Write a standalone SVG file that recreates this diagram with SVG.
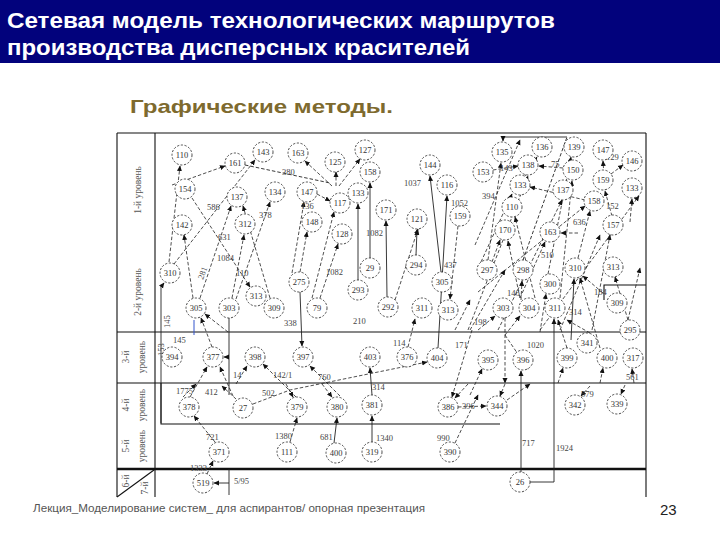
<svg xmlns="http://www.w3.org/2000/svg" width="720" height="540" viewBox="0 0 720 540">
<style>
.node circle{fill:#fff;stroke:#222;stroke-width:0.8;stroke-dasharray:2.2 1.6}
.node text{font-family:"Liberation Serif",serif;font-size:8.5px;fill:#333;text-anchor:middle}
.d{fill:none;stroke:#222;stroke-width:0.8;stroke-dasharray:3.5 2;marker-end:url(#ah)}
.s{fill:none;stroke:#222;stroke-width:0.9;marker-end:url(#ah)}
.p{fill:none;stroke:#222;stroke-width:0.9}
.lbl{font-family:"Liberation Serif",serif;font-size:8.5px;fill:#444}
.lev{font-family:"Liberation Serif",serif;font-size:9.5px;fill:#555;text-anchor:middle}
.frame{fill:none;stroke:#111;stroke-width:1.1}
</style>
<defs>
<marker id="ah" markerWidth="6" markerHeight="6" refX="5" refY="3" orient="auto" markerUnits="userSpaceOnUse">
<path d="M0,0.5 L5.5,3 L0,5.5 Z" fill="#111"/>
</marker>
</defs>
<rect width="720" height="540" fill="#fff"/>
<rect x="0" y="0" width="720" height="63" fill="#02027C"/>
<text x="7" y="28" font-family="Liberation Sans,Arial,sans-serif" font-size="22" font-weight="bold" fill="#fff" textLength="548" lengthAdjust="spacingAndGlyphs">Сетевая модель технологических маршрутов</text>
<text x="7" y="55" font-family="Liberation Sans,Arial,sans-serif" font-size="22" font-weight="bold" fill="#fff" textLength="463" lengthAdjust="spacingAndGlyphs">производства дисперсных красителей</text>
<text x="130" y="113" font-family="Liberation Sans,Arial,sans-serif" font-size="19" font-weight="bold" fill="#7E6A2E" textLength="263" lengthAdjust="spacingAndGlyphs">Графические методы.</text>

<g id="frame">
<path class="frame" d="M117,133 H646 M117,133 V497 M155,133 V497 M646,133 V497 M117,332 H646 M117,383 H646"/>
<path d="M117,469 H646" stroke="#111" stroke-width="2.6"/>
<path class="frame" d="M161,383 V424 H500"/>
<path class="frame" d="M117,497 L154,470"/>
<path class="frame" d="M604,300 V285 H646"/>
<path d="M194,320 V335" stroke="#3355cc" stroke-width="1"/>
</g>

<g id="levels">
<text class="lev" transform="translate(141,190) rotate(-90)">1-й уровень</text>
<text class="lev" transform="translate(141,292) rotate(-90)">2-й уровень</text>
<text class="lev" transform="translate(129,357) rotate(-90)">3-й</text>
<text class="lev" transform="translate(145,357) rotate(-90)">уровень</text>
<text class="lev" transform="translate(129,405) rotate(-90)">4-й</text>
<text class="lev" transform="translate(145,405) rotate(-90)">уровень</text>
<text class="lev" transform="translate(129,446) rotate(-90)">5-й</text>
<text class="lev" transform="translate(145,446) rotate(-90)">уровень</text>
<text class="lev" transform="translate(129,481) rotate(-90)">6-й</text>
<text class="lev" transform="translate(148,488) rotate(-90)">7-й</text>
</g>

<g id="connectors">
<line class="d" x1="169" y1="262" x2="180" y2="166"/>
<line class="d" x1="172" y1="185" x2="225" y2="166"/>
<line class="d" x1="174" y1="264" x2="255" y2="160"/>
<line class="d" x1="192" y1="198" x2="250" y2="287"/>
<line class="d" x1="200" y1="298" x2="231" y2="206"/>
<line class="d" x1="232" y1="298" x2="244" y2="235"/>
<line class="d" x1="236" y1="299" x2="270" y2="202"/>
<line class="d" x1="270" y1="298" x2="243" y2="206"/>
<line class="d" x1="193" y1="298" x2="184" y2="235"/>
<line class="p" stroke-dasharray="3.5 2" x1="245" y1="165" x2="330" y2="183"/>
<line class="d" x1="332" y1="186" x2="305" y2="161"/>
<line class="d" x1="336" y1="186" x2="336" y2="172"/>
<line class="d" x1="339" y1="186" x2="360" y2="159"/>
<line class="d" x1="317" y1="194" x2="330" y2="201"/>
<line class="d" x1="300" y1="272" x2="307" y2="232"/>
<line class="d" x1="292" y1="273" x2="304" y2="202"/>
<line class="d" x1="320" y1="298" x2="338" y2="244"/>
<line class="d" x1="312" y1="298" x2="334" y2="212"/>
<line class="s" x1="358" y1="280" x2="358" y2="204"/>
<line class="s" x1="370" y1="258" x2="370" y2="183"/>
<line class="s" x1="387" y1="297" x2="386" y2="221"/>
<line class="s" x1="416" y1="255" x2="417" y2="230"/>
<line class="s" x1="441" y1="272" x2="430" y2="176"/>
<line class="s" x1="438" y1="348" x2="447" y2="196"/>
<line class="d" x1="458" y1="226" x2="450" y2="299"/>
<line class="d" x1="395" y1="300" x2="418" y2="229"/>
<line class="d" x1="470" y1="330" x2="505" y2="270"/>
<line class="d" x1="455" y1="330" x2="470" y2="300"/>

<path class="p" stroke-dasharray="3.5 2" d="M523,260 L567,137"/>
<path class="s" d="M567,137 H503 V141"/>
<line class="d" x1="488" y1="260" x2="501" y2="163"/>
<line class="d" x1="493" y1="170" x2="518" y2="166"/>
<line class="d" x1="563" y1="168" x2="539" y2="166"/>
<line class="d" x1="525" y1="176" x2="537" y2="157"/>
<line class="d" x1="548" y1="274" x2="571" y2="157"/>
<line class="d" x1="605" y1="190" x2="603" y2="161"/>
<line class="d" x1="611" y1="174" x2="623" y2="165"/>
<line class="d" x1="612" y1="216" x2="605" y2="191"/>
<line class="d" x1="630" y1="222" x2="632" y2="199"/>
<line class="d" x1="478" y1="292" x2="585" y2="206"/>
<line class="d" x1="578" y1="258" x2="590" y2="211"/>
<line class="d" x1="560" y1="298" x2="572" y2="181"/>
<line class="d" x1="481" y1="262" x2="512" y2="194"/>
<line class="d" x1="585" y1="200" x2="530" y2="187"/>
<line class="d" x1="535" y1="298" x2="515" y2="217"/>
<line class="d" x1="578" y1="233" x2="561" y2="233"/>
<line class="d" x1="492" y1="262" x2="500" y2="240"/>
<line class="d" x1="520" y1="298" x2="508" y2="241"/>
<line class="d" x1="468" y1="330" x2="528" y2="176"/>
<line class="d" x1="498" y1="330" x2="562" y2="200"/>
<line class="d" x1="540" y1="330" x2="639" y2="196"/>
<line class="d" x1="592" y1="330" x2="610" y2="235"/>
<line class="d" x1="628" y1="320" x2="640" y2="268"/>
<line class="d" x1="560" y1="330" x2="600" y2="235"/>
<line class="d" x1="475" y1="245" x2="520" y2="140"/>
<line class="d" x1="520" y1="298" x2="545" y2="242"/>

<line class="d" x1="521" y1="300" x2="522" y2="281"/>
<line class="d" x1="478" y1="330" x2="495" y2="316"/>
<line class="d" x1="505" y1="335" x2="520" y2="316"/>
<line class="d" x1="540" y1="332" x2="546" y2="294"/>
<line class="d" x1="603" y1="293" x2="583" y2="276"/>
<line class="d" x1="600" y1="348" x2="580" y2="278"/>
<line class="s" x1="571" y1="340" x2="574" y2="279"/>
<line class="d" x1="628" y1="320" x2="615" y2="277"/>

<path class="s" d="M161,423 V287 L164,283"/>
<line class="d" x1="228" y1="332" x2="205" y2="314"/>
<line class="p" x1="229" y1="318" x2="229" y2="395"/>
<line class="s" x1="229" y1="357" x2="224" y2="357"/>
<line class="d" x1="212" y1="347" x2="201" y2="318"/>
<line class="d" x1="190" y1="397" x2="207" y2="367"/>
<line class="d" x1="233" y1="396" x2="220" y2="367"/>
<line class="d" x1="236" y1="384" x2="247" y2="366"/>
<line class="d" x1="296" y1="397" x2="263" y2="364"/>
<line class="d" x1="340" y1="396" x2="310" y2="366"/>
<line class="s" x1="300" y1="292" x2="302" y2="346"/>
<line class="s" x1="372" y1="395" x2="370" y2="368"/>
<path class="d" d="M253,404 L290,390 L427,362"/>
<line class="d" x1="408" y1="347" x2="415" y2="319"/>
<line class="d" x1="472" y1="330" x2="452" y2="397"/>
<line class="d" x1="470" y1="395" x2="482" y2="369"/>
<line class="s" x1="521" y1="472" x2="521" y2="371"/>
<path class="s" d="M530,482 H554 V319"/>
<line class="d" x1="558" y1="383" x2="563" y2="368"/>
<line class="d" x1="567" y1="348" x2="558" y2="320"/>
<line class="d" x1="590" y1="333" x2="567" y2="320"/>
<line class="d" x1="600" y1="383" x2="603" y2="368"/>
<line class="d" x1="634" y1="383" x2="632" y2="369"/>
<line class="d" x1="505" y1="335" x2="528" y2="369"/>
<line class="d" x1="505" y1="318" x2="505" y2="383"/>

<line class="d" x1="215" y1="442" x2="194" y2="416"/>
<line class="d" x1="207" y1="474" x2="213" y2="461"/>
<line class="s" x1="229" y1="483" x2="214" y2="483"/>
<line class="p" x1="229" y1="469" x2="229" y2="495"/>
<line class="d" x1="290" y1="442" x2="297" y2="418"/>
<line class="s" x1="334" y1="443" x2="337" y2="418"/>
<line class="s" x1="372" y1="442" x2="372" y2="416"/>
<line class="d" x1="455" y1="443" x2="478" y2="395"/>
<line class="d" x1="505" y1="384" x2="500" y2="396"/>
<line class="d" x1="507" y1="400" x2="530" y2="384"/>
<line class="d" x1="590" y1="386" x2="581" y2="396"/>
<line class="d" x1="625" y1="385" x2="621" y2="394"/>
<line class="d" x1="236" y1="399" x2="222" y2="386"/>
<line class="d" x1="286" y1="384" x2="293" y2="397"/>
<line class="d" x1="322" y1="384" x2="332" y2="397"/>
<line class="d" x1="468" y1="384" x2="455" y2="398"/>
<line class="d" x1="458" y1="407" x2="486" y2="406"/>
<line class="d" x1="183" y1="397" x2="196" y2="384"/>
</g>

<g id="edge-labels">
<text class="lbl" x="282" y="175">380</text>
<text class="lbl" x="207" y="210">586</text>
<text class="lbl" x="259" y="218">378</text>
<text class="lbl" x="218" y="240">631</text>
<text class="lbl" x="217" y="261">1084</text>
<text class="lbl" x="301" y="209">136</text>
<text class="lbl" x="366" y="236">1082</text>
<text class="lbl" x="404" y="186">1037</text>
<text class="lbl" x="451" y="206">1052</text>
<text class="lbl" x="500" y="171">143</text>
<text class="lbl" x="551" y="167">75</text>
<text class="lbl" x="482" y="199">394</text>
<text class="lbl" x="606" y="160">129</text>
<text class="lbl" x="606" y="209">152</text>
<text class="lbl" x="573" y="225">636</text>
<text class="lbl" x="541" y="258">510</text>
<text class="lbl" transform="translate(203,280) rotate(-70)">281</text>
<text class="lbl" x="236" y="276">110</text>
<text class="lbl" x="326" y="275">1082</text>
<text class="lbl" x="444" y="268">437</text>
<text class="lbl" x="507" y="296">146</text>
<text class="lbl" x="474" y="325">198</text>
<text class="lbl" x="594" y="295">184</text>
<text class="lbl" x="569" y="315">314</text>
<text class="lbl" transform="translate(170,328) rotate(-90)">145</text>
<text class="lbl" x="284" y="326">338</text>
<text class="lbl" x="353" y="324">210</text>
<text class="lbl" x="173" y="343">145</text>
<text class="lbl" transform="translate(164,356) rotate(-90)">153</text>
<text class="lbl" x="393" y="346">114</text>
<text class="lbl" x="455" y="348">171</text>
<text class="lbl" x="527" y="348">1020</text>
<text class="lbl" x="233" y="378">14</text>
<text class="lbl" x="273" y="378">142/1</text>
<text class="lbl" x="318" y="380">760</text>
<text class="lbl" x="626" y="380">561</text>
<text class="lbl" x="176" y="394">1775</text>
<text class="lbl" x="205" y="395" fill="#8a7a30">412</text>
<text class="lbl" x="262" y="396">502</text>
<text class="lbl" x="372" y="390">314</text>
<text class="lbl" x="462" y="409">396</text>
<text class="lbl" x="581" y="397">579</text>
<text class="lbl" x="206" y="440">721</text>
<text class="lbl" x="275" y="439">1380</text>
<text class="lbl" x="320" y="440">681</text>
<text class="lbl" x="376" y="441">1340</text>
<text class="lbl" x="437" y="441">990</text>
<text class="lbl" x="522" y="446">717</text>
<text class="lbl" x="556" y="451">1924</text>
<text class="lbl" x="190" y="471" fill="#8a7a30">1333</text>
<text class="lbl" x="234" y="484">5/95</text>
</g>

<g id="nodes">
<g id="n-a1" class="node" transform="translate(182,155)"><circle r="10"/><text y="3">110</text></g>
<g id="n-a2" class="node" transform="translate(235,163)"><circle r="10"/><text y="3">161</text></g>
<g id="n-a3" class="node" transform="translate(263,152)"><circle r="10"/><text y="3">143</text></g>
<g id="n-a4" class="node" transform="translate(185,189)"><circle r="10"/><text y="3">154</text></g>
<g id="n-a5" class="node" transform="translate(237,197)"><circle r="10"/><text y="3">137</text></g>
<g id="n-a6" class="node" transform="translate(275,192)"><circle r="10"/><text y="3">134</text></g>
<g id="n-a7" class="node" transform="translate(182,225)"><circle r="10"/><text y="3">142</text></g>
<g id="n-a8" class="node" transform="translate(245,224)"><circle r="10"/><text y="3">312</text></g>
<g id="n-a9" class="node" transform="translate(298,153)"><circle r="10"/><text y="3">163</text></g>
<g id="n-a10" class="node" transform="translate(335,162)"><circle r="10"/><text y="3">125</text></g>
<g id="n-a11" class="node" transform="translate(365,150)"><circle r="10"/><text y="3">127</text></g>
<g id="n-a12" class="node" transform="translate(307,192)"><circle r="10"/><text y="3">147</text></g>
<g id="n-a13" class="node" transform="translate(340,203)"><circle r="10"/><text y="3">117</text></g>
<g id="n-a14" class="node" transform="translate(358,193)"><circle r="10"/><text y="3">133</text></g>
<g id="n-a15" class="node" transform="translate(370,172)"><circle r="10"/><text y="3">158</text></g>
<g id="n-a16" class="node" transform="translate(386,210)"><circle r="10"/><text y="3">171</text></g>
<g id="n-a17" class="node" transform="translate(312,222)"><circle r="10"/><text y="3">148</text></g>
<g id="n-a18" class="node" transform="translate(342,234)"><circle r="10"/><text y="3">128</text></g>
<g id="n-a19" class="node" transform="translate(430,165)"><circle r="10"/><text y="3">144</text></g>
<g id="n-a20" class="node" transform="translate(447,185)"><circle r="10"/><text y="3">116</text></g>
<g id="n-a21" class="node" transform="translate(417,219)"><circle r="10"/><text y="3">121</text></g>
<g id="n-a22" class="node" transform="translate(460,216)"><circle r="10"/><text y="3">159</text></g>
<g id="n-a23" class="node" transform="translate(502,152)"><circle r="10"/><text y="3">135</text></g>
<g id="n-a24" class="node" transform="translate(542,147)"><circle r="10"/><text y="3">136</text></g>
<g id="n-a25" class="node" transform="translate(574,147)"><circle r="10"/><text y="3">139</text></g>
<g id="n-a26" class="node" transform="translate(603,150)"><circle r="10"/><text y="3">147</text></g>
<g id="n-a27" class="node" transform="translate(632,161)"><circle r="10"/><text y="3">146</text></g>
<g id="n-a28" class="node" transform="translate(483,172)"><circle r="10"/><text y="3">153</text></g>
<g id="n-a29" class="node" transform="translate(528,165)"><circle r="10"/><text y="3">138</text></g>
<g id="n-a30" class="node" transform="translate(573,170)"><circle r="10"/><text y="3">150</text></g>
<g id="n-a31" class="node" transform="translate(520,185)"><circle r="10"/><text y="3">133</text></g>
<g id="n-a32" class="node" transform="translate(563,190)"><circle r="10"/><text y="3">137</text></g>
<g id="n-a33" class="node" transform="translate(603,180)"><circle r="10"/><text y="3">159</text></g>
<g id="n-a34" class="node" transform="translate(632,188)"><circle r="10"/><text y="3">133</text></g>
<g id="n-a35" class="node" transform="translate(594,201)"><circle r="10"/><text y="3">158</text></g>
<g id="n-a36" class="node" transform="translate(512,207)"><circle r="10"/><text y="3">110</text></g>
<g id="n-a37" class="node" transform="translate(613,225)"><circle r="10"/><text y="3">157</text></g>
<g id="n-a38" class="node" transform="translate(550,232)"><circle r="10"/><text y="3">163</text></g>
<g id="n-a39" class="node" transform="translate(505,230)"><circle r="10"/><text y="3">170</text></g>

<g id="n-b1" class="node" transform="translate(170,273)"><circle r="10"/><text y="3">310</text></g>
<g id="n-b2" class="node" transform="translate(196,308)"><circle r="10"/><text y="3">305</text></g>
<g id="n-b3" class="node" transform="translate(229,308)"><circle r="10"/><text y="3">303</text></g>
<g id="n-b4" class="node" transform="translate(256,296)"><circle r="10"/><text y="3">313</text></g>
<g id="n-b5" class="node" transform="translate(274,308)"><circle r="10"/><text y="3">309</text></g>
<g id="n-b6" class="node" transform="translate(299,282)"><circle r="10"/><text y="3">275</text></g>
<g id="n-b7" class="node" transform="translate(317,308)"><circle r="10"/><text y="3">79</text></g>
<g id="n-b8" class="node" transform="translate(370,268)"><circle r="10"/><text y="3">29</text></g>
<g id="n-b9" class="node" transform="translate(358,290)"><circle r="10"/><text y="3">293</text></g>
<g id="n-b10" class="node" transform="translate(416,265)"><circle r="10"/><text y="3">294</text></g>
<g id="n-b11" class="node" transform="translate(388,307)"><circle r="10"/><text y="3">292</text></g>
<g id="n-b12" class="node" transform="translate(442,282)"><circle r="10"/><text y="3">305</text></g>
<g id="n-b13" class="node" transform="translate(422,308)"><circle r="10"/><text y="3">311</text></g>
<g id="n-b14" class="node" transform="translate(448,310)"><circle r="10"/><text y="3">313</text></g>
<g id="n-b15" class="node" transform="translate(487,270)"><circle r="10"/><text y="3">297</text></g>
<g id="n-b16" class="node" transform="translate(523,270)"><circle r="10"/><text y="3">298</text></g>
<g id="n-b17" class="node" transform="translate(550,284)"><circle r="10"/><text y="3">300</text></g>
<g id="n-b18" class="node" transform="translate(575,268)"><circle r="10"/><text y="3">310</text></g>
<g id="n-b19" class="node" transform="translate(613,267)"><circle r="10"/><text y="3">313</text></g>
<g id="n-b20" class="node" transform="translate(617,303)"><circle r="10"/><text y="3">309</text></g>
<g id="n-b21" class="node" transform="translate(630,330)"><circle r="10"/><text y="3">295</text></g>
<g id="n-b22" class="node" transform="translate(503,308)"><circle r="10"/><text y="3">303</text></g>
<g id="n-b23" class="node" transform="translate(529,308)"><circle r="10"/><text y="3">304</text></g>
<g id="n-b24" class="node" transform="translate(555,308)"><circle r="10"/><text y="3">311</text></g>

<g id="n-c1" class="node" transform="translate(172,357)"><circle r="10"/><text y="3">394</text></g>
<g id="n-c2" class="node" transform="translate(213,357)"><circle r="10"/><text y="3">377</text></g>
<g id="n-c3" class="node" transform="translate(255,357)"><circle r="10"/><text y="3">398</text></g>
<g id="n-c4" class="node" transform="translate(303,357)"><circle r="10"/><text y="3">397</text></g>
<g id="n-c5" class="node" transform="translate(370,357)"><circle r="10"/><text y="3">403</text></g>
<g id="n-c6" class="node" transform="translate(407,357)"><circle r="10"/><text y="3">376</text></g>
<g id="n-c7" class="node" transform="translate(437,358)"><circle r="10"/><text y="3">404</text></g>
<g id="n-c8" class="node" transform="translate(488,360)"><circle r="10"/><text y="3">395</text></g>
<g id="n-c9" class="node" transform="translate(523,360)"><circle r="10"/><text y="3">396</text></g>
<g id="n-c10" class="node" transform="translate(567,358)"><circle r="10"/><text y="3">399</text></g>
<g id="n-c11" class="node" transform="translate(587,343)"><circle r="10"/><text y="3">341</text></g>
<g id="n-c12" class="node" transform="translate(607,358)"><circle r="10"/><text y="3">400</text></g>
<g id="n-c13" class="node" transform="translate(633,358)"><circle r="10"/><text y="3">317</text></g>

<g id="n-d1" class="node" transform="translate(189,407)"><circle r="10"/><text y="3">378</text></g>
<g id="n-d2" class="node" transform="translate(243,408)"><circle r="10"/><text y="3">27</text></g>
<g id="n-d3" class="node" transform="translate(297,407)"><circle r="10"/><text y="3">379</text></g>
<g id="n-d4" class="node" transform="translate(337,407)"><circle r="10"/><text y="3">380</text></g>
<g id="n-d5" class="node" transform="translate(372,405)"><circle r="10"/><text y="3">381</text></g>
<g id="n-d6" class="node" transform="translate(448,407)"><circle r="10"/><text y="3">386</text></g>
<g id="n-d7" class="node" transform="translate(497,406)"><circle r="10"/><text y="3">344</text></g>
<g id="n-d8" class="node" transform="translate(575,405)"><circle r="10"/><text y="3">342</text></g>
<g id="n-d9" class="node" transform="translate(617,404)"><circle r="10"/><text y="3">339</text></g>

<g id="n-e1" class="node" transform="translate(219,452)"><circle r="10"/><text y="3">371</text></g>
<g id="n-e2" class="node" transform="translate(287,452)"><circle r="10"/><text y="3">111</text></g>
<g id="n-e3" class="node" transform="translate(336,453)"><circle r="10"/><text y="3">400</text></g>
<g id="n-e4" class="node" transform="translate(372,452)"><circle r="10"/><text y="3">319</text></g>
<g id="n-e5" class="node" transform="translate(450,452)"><circle r="10"/><text y="3">390</text></g>
<g id="n-f1" class="node" transform="translate(203,483)"><circle r="10"/><text y="3">519</text></g>
<g id="n-f2" class="node" transform="translate(520,482)"><circle r="10"/><text y="3">26</text></g>
</g>

<text x="33" y="512" font-family="Liberation Sans,Arial,sans-serif" font-size="11" fill="#555" textLength="392" lengthAdjust="spacingAndGlyphs">Лекция_Моделирование систем_ для аспирантов/ опорная презентация</text>
<text x="660" y="515" font-family="Liberation Sans,Arial,sans-serif" font-size="15" fill="#222">23</text>
</svg>
